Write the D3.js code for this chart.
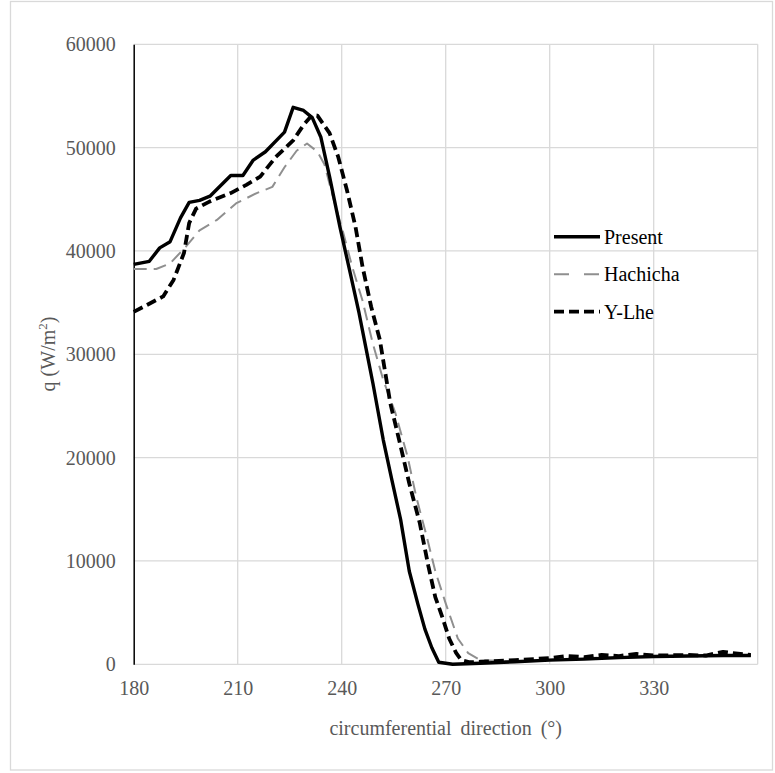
<!DOCTYPE html>
<html>
<head>
<meta charset="utf-8">
<script src="https://cdn.jsdelivr.net/npm/d3@7"></script>
<style>
  body { margin: 0; background: #fff; }
  text { font-family: "Liberation Serif", "Times New Roman", serif; fill: #595959; }
</style>
</head>
<body>
<div class="diagram-canvas"></div>
<script>
// values: [angle in degrees, q in W/m2]
let present = [
  [180, 38700], [184.5, 39000], [187.5, 40300], [190.5, 40900], [193.5, 43200],
  [196, 44700], [199, 44900], [202, 45300], [208, 47300], [211.5, 47300],
  [214.5, 48800], [218, 49600], [223.5, 51500], [226, 53900], [229, 53600],
  [231.5, 52900], [234, 51000], [236.5, 47200], [239.5, 42300], [242.5, 37800],
  [245, 34000], [247, 30600], [249, 27200], [252, 21700], [254.5, 17800],
  [257, 14000], [259.5, 9000], [262, 5800], [264, 3400], [266, 1600],
  [268, 200], [272, 0], [280, 100], [290, 250], [300, 400], [310, 500],
  [320, 650], [330, 750], [340, 800], [350, 850], [358, 850]
];

let hachicha = [
  [180, 38250], [186.5, 38250], [190.5, 38800], [195, 40400], [199, 42000],
  [204, 43000], [209.5, 44600], [215.5, 45600], [220, 46200], [223.5, 48100],
  [227, 49700], [230, 50400], [233, 49600], [235, 48400], [237.5, 45200],
  [240.5, 41700], [243, 38500], [246, 35200], [249, 31000], [252, 27500],
  [255.5, 24300], [259, 20100], [261.5, 16200], [264.5, 12400], [267, 9000],
  [270, 5900], [273.5, 2500], [276.5, 1080], [280, 400], [290, 300],
  [300, 450], [310, 600], [320, 700], [330, 800], [340, 800], [350, 850], [358, 850]
];

let ylhe = [
  [180, 34100], [188.5, 35600], [191.5, 37200], [194.5, 39800], [196, 42700],
  [198, 44100], [202, 44800], [208, 45600], [212.5, 46400], [216.5, 47200],
  [221, 49100], [226, 50700], [229, 52200], [231.5, 53150], [233, 53100],
  [236.5, 51400], [239, 49100], [241.5, 45900], [244, 42300], [246, 38500],
  [248.5, 34600], [251, 31400], [254, 25300], [257, 21100], [259.5, 17500],
  [262.5, 13700], [265, 9500], [267, 6500], [269, 4600], [271, 2500],
  [273, 1100], [274.5, 400], [277, 200], [280, 250], [290, 400], [300, 600],
  [305, 800], [310, 700], [315, 900], [320, 800], [325, 1000], [330, 850],
  [340, 900], [345, 850], [350, 1200], [355, 1000], [358, 900]
];

let seriesNames = ["Present", "Hachicha", "Y-Lhe"];
let xTicks = [180, 210, 240, 270, 300, 330];
let yTicks = [0, 10000, 20000, 30000, 40000, 50000, 60000];

let width = 775,
  height = 773,
  plotLeft = 133.7,
  plotRight = 757.7,
  plotTop = 44.3,
  plotBottom = 664.3;

let styles = [
  { color: "#000", width: 3.4, dash: null },
  { color: "#8f8f8f", width: 2, dash: "13,7" },
  { color: "#000", width: 3.8, dash: "10,5" }
];

let svg = d3
  .select(".diagram-canvas")
  .append("svg")
  .attr("width", width)
  .attr("height", height);

// outer chart frame
svg
  .append("rect")
  .attr("x", 10.5)
  .attr("y", 1.5)
  .attr("width", 762)
  .attr("height", 768.5)
  .attr("fill", "#fff")
  .attr("stroke", "#d9d9d9")
  .attr("stroke-width", 1.3);

let xScale = d3.scaleLinear().domain([180, 360]).range([plotLeft, plotRight]);
let yScale = d3.scaleLinear().domain([0, 60000]).range([plotBottom, plotTop]);

// gridlines
svg
  .append("g")
  .selectAll("line")
  .data(yTicks.slice(1))
  .enter()
  .append("line")
  .attr("x1", plotLeft)
  .attr("x2", plotRight)
  .attr("y1", (d) => yScale(d))
  .attr("y2", (d) => yScale(d))
  .attr("stroke", "#d9d9d9")
  .attr("stroke-width", 1.3);

svg
  .append("g")
  .selectAll("line")
  .data(xTicks.slice(1).concat([360]))
  .enter()
  .append("line")
  .attr("x1", (d) => xScale(d))
  .attr("x2", (d) => xScale(d))
  .attr("y1", plotTop)
  .attr("y2", plotBottom)
  .attr("stroke", "#d9d9d9")
  .attr("stroke-width", 1.3);

// x axis (gray baseline, no ticks)
let xAxis = d3
  .axisBottom(xScale)
  .tickValues(xTicks)
  .tickSize(0)
  .tickPadding(17)
  .tickFormat(d3.format("d"));

let gx = svg
  .append("g")
  .attr("id", "x-axis")
  .attr("transform", "translate(0," + plotBottom + ")")
  .call(xAxis);
gx.select(".domain")
  .attr("stroke", "#d9d9d9")
  .attr("stroke-width", 1.3)
  .attr("d", "M" + plotLeft + ",0H" + plotRight);
gx.selectAll("text")
  .style("font-size", "20px")
  .style("font-family", "Liberation Serif")
  .attr("fill", "#595959");

// y axis (black line)
let yAxis = d3
  .axisLeft(yScale)
  .tickValues(yTicks)
  .tickSize(0)
  .tickPadding(18)
  .tickFormat(d3.format("d"));

let gy = svg
  .append("g")
  .attr("id", "y-axis")
  .attr("transform", "translate(" + plotLeft + ",0)")
  .call(yAxis);
gy.select(".domain").attr("stroke", "#000").attr("stroke-width", 1.5);
gy.selectAll("text")
  .style("font-size", "20px")
  .style("font-family", "Liberation Serif")
  .attr("fill", "#595959");

// series lines
let line = d3
  .line()
  .x((d) => xScale(d[0]))
  .y((d) => yScale(d[1]));

let allSeries = [present, hachicha, ylhe];

// draw Hachicha first so the black ones sit on top
[1, 0, 2].forEach(function (i) {
  svg
    .append("path")
    .datum(allSeries[i])
    .attr("d", line)
    .attr("fill", "none")
    .attr("stroke", styles[i].color)
    .attr("stroke-width", styles[i].width)
    .attr("stroke-dasharray", styles[i].dash)
    .attr("stroke-linejoin", "round");
});

// legend
let legendY = d3.scalePoint().domain(seriesNames).range([236.7, 311.7]);

let legend = svg.append("g").attr("id", "legend");

legend
  .selectAll("line")
  .data(seriesNames)
  .enter()
  .append("line")
  .attr("x1", 554)
  .attr("x2", 600)
  .attr("y1", (d) => legendY(d))
  .attr("y2", (d) => legendY(d))
  .attr("stroke", (d, i) => styles[i].color)
  .attr("stroke-width", (d, i) => styles[i].width)
  .attr("stroke-dasharray", (d, i) => (i == 1 ? "15,15" : styles[i].dash));

legend
  .selectAll("text")
  .data(seriesNames)
  .enter()
  .append("text")
  .attr("x", 604)
  .attr("y", (d) => legendY(d) + 7)
  .style("font-size", "20px")
  .style("fill", "#000")
  .text((d) => d);

// axis titles
svg
  .append("text")
  .attr("x", (plotLeft + plotRight) / 2)
  .attr("y", 735)
  .attr("text-anchor", "middle")
  .style("font-size", "20px")
  .style("word-spacing", "4px")
  .text("circumferential direction (°)");

let yTitle = svg
  .append("text")
  .attr("transform", "translate(55," + 354 + ") rotate(-90)")
  .attr("text-anchor", "middle")
  .style("font-size", "20px");
yTitle.append("tspan").text("q (W/m");
yTitle.append("tspan").attr("dy", -8).style("font-size", "13px").text("2");
yTitle.append("tspan").attr("dy", 8).text(")");
</script>
</body>
</html>
